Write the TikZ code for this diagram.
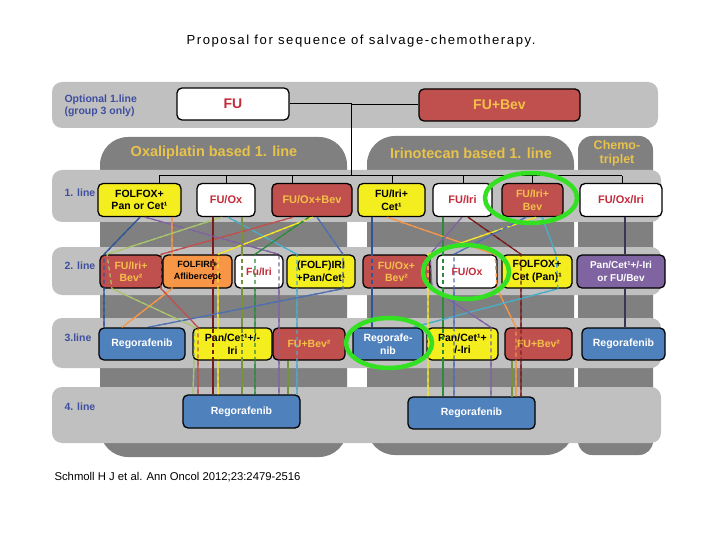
\documentclass[tikz,border=0pt]{standalone}
\usepackage{fontspec}
\setmainfont{Liberation Sans}
\newfontfamily\titlefont[LetterSpace=12]{Liberation Sans}
\usetikzlibrary{positioning, calc, backgrounds}

\definecolor{bandgray}{HTML}{C0C0C0}
\definecolor{colgray}{HTML}{808080}
\definecolor{boxred}{HTML}{C0504D}
\definecolor{boxyellow}{HTML}{F5EE1E}
\definecolor{boxorange}{HTML}{F79646}
\definecolor{boxblue}{HTML}{4F81BD}
\definecolor{boxpurple}{HTML}{8064A2}
\definecolor{txtgold}{HTML}{F4C04A}
\definecolor{txtred}{HTML}{C42A3A}
\definecolor{labelblue}{HTML}{3F4FA0}
\definecolor{headgold}{HTML}{E8C24A}
\definecolor{ringgreen}{HTML}{33E022}
\definecolor{wdblue}{HTML}{2F5597}
\definecolor{wpurple}{HTML}{8064A2}
\definecolor{worange}{HTML}{F79646}
\definecolor{wlgreen}{HTML}{A9C46C}
\definecolor{wdred}{HTML}{7B1C1C}
\definecolor{wcyan}{HTML}{4BACC6}
\definecolor{wolive}{HTML}{77933C}
\definecolor{wred}{HTML}{C0504D}
\definecolor{wyellow}{HTML}{F2E52A}
\definecolor{wgreen}{HTML}{2E8B3E}
\definecolor{wblue}{HTML}{4F6FB0}
\definecolor{wnavy}{HTML}{3B3556}

\pgfdeclarelayer{bands}
\pgfdeclarelayer{wires}
\pgfsetlayers{bands,wires,main}

\tikzset{
  rbox/.style={draw=black, line width=1.3pt, rounded corners=5pt, align=center,
    inner sep=1pt, font=\bfseries\fontsize{10.5}{12.5}\selectfont},
  redbox/.style={rbox, fill=boxred, text=txtgold},
  yelbox/.style={rbox, fill=boxyellow, text=black},
  whitebox/.style={rbox, fill=white, text=txtred},
  orabox/.style={rbox, fill=boxorange, text=black},
  bluebox/.style={rbox, fill=boxblue, text=white},
  purbox/.style={rbox, fill=boxpurple, text=white},
  rowlabel/.style={anchor=west, text=labelblue, font=\bfseries\fontsize{10.5}{12.5}\selectfont},
  header/.style={text=headgold, font=\bfseries\fontsize{14.5}{15}\selectfont},
  wire/.style={line width=1.2pt},
  thru/.style={wire, dash pattern=on 4pt off 3pt},
  ring/.style={draw=ringgreen, line width=4.5pt}
}

% the treatment sequences, drawn once behind the boxes and once dashed over them
\newcommand\seqwires[1]{
  \draw[#1, wdblue] (140,0 |- a1.south) -- (104,0 |- b1.north) -- (104,0 |- c1.north);
  \draw[#1, wpurple] (145,0 |- a1.south) -- (279,0 |- b3.north) -- (279,0 |- d1.north);
  \draw[#1, worange] (172,0 |- a1.south) -- (172,0 |- b2.south) -- (122,0 |- c1.north);
  \draw[#1, wlgreen] (222,0 |- a2.south) -- (107,0 |- b1.north) -- (112,0 |- b1.south) -- (195,0 |- c2.north) -- (193,0 |- d1.north);
  \draw[#1, wdred] (213,0 |- a2.south) -- (213,0 |- d1.north);
  \draw[#1, wcyan] (228,0 |- a2.south) -- (297,0 |- b4.north) -- (297,0 |- d1.north);
  \draw[#1, wolive] (242,0 |- a2.south) -- (242,0 |- d1.north);
  \draw[#1, wred] (293,0 |- a3.south) -- (161,0 |- b2.north) -- (161,0 |- b2.south) -- (198,0 |- c2.north) -- (198,0 |- d1.north);
  \draw[#1, wyellow] (313,0 |- a3.south) -- (218,0 |- b2.north) -- (218,0 |- d1.north);
  \draw[#1, wgreen] (309,0 |- a3.south) -- (255,0 |- b3.north) -- (255,0 |- d1.north);
  \draw[#1, wblue] (317,0 |- a3.south) -- (343,0 |- b4.north) -- (343,0 |- b4.south) -- (148,0 |- c1.north);
  \draw[#1, wolive] (288,0 |- c3.south) -- (288,0 |- d1.north);
  \draw[#1, wdblue] (372,0 |- a4.south) -- (372,0 |- c4.north);
  \draw[#1, worange] (387,0 |- a4.south) -- (495,0 |- b6.north) -- (497,0 |- b6.south) -- (516,0 |- c6.north) -- (516,0 |- d2.north);
  \draw[#1, wgreen] (443,0 |- a5.south) -- (443,0 |- d2.north);
  \draw[#1, wpurple] (462,0 |- a5.south) -- (430,0 |- b5.north) -- (432,0 |- b5.south) -- (491,0 |- c5.north) -- (491,0 |- d2.north);
  \draw[#1, wdred] (468,0 |- a5.south) -- (521,0 |- b7.north) -- (521,0 |- d2.north);
  \draw[#1, wyellow] (536,0 |- a6.south) -- (428,0 |- b5.north) -- (428,0 |- d2.north);
  \draw[#1, wblue] (526,0 |- a6.south) -- (454,0 |- b6.north) -- (454,0 |- d2.north);
  \draw[#1, wcyan] (542,0 |- a6.south) -- (556,0 |- b7.north) -- (558,0 |- b7.south) -- (413,0 |- c4.north);
  \draw[#1, wolive] (512,0 |- c6.south) -- (512,0 |- d2.north);
  \draw[#1, wnavy] (625,0 |- a7.south) -- (625,0 |- b8.north);
  \draw[#1, wnavy] (625,0 |- b8.south) -- (625,0 |- c7.north);
}

\begin{document}
\begin{tikzpicture}[x=1pt, y=-1pt]
  \useasboundingbox (0,0) rectangle (720,540);

  \node[font=\titlefont\fontsize{13.1}{15}\selectfont] (title) at (361,41)
    {Proposal for sequence of salvage-chemotherapy.};

  % columns and bands
  \begin{pgfonlayer}{bands}
    \fill[colgray, rounded corners=28pt] (100,137) rectangle (347,457);
    \fill[colgray, rounded corners=28pt] (367,136) rectangle (574,455);
    \fill[colgray, rounded corners=14pt] (578,136) rectangle (653,455);
    \fill[bandgray, rounded corners=10pt] (52,82) rectangle (658,128);
    \fill[bandgray, rounded corners=10pt] (52,170) rectangle (661,222);
    \fill[bandgray, rounded corners=10pt] (52,247) rectangle (661,295);
    \fill[bandgray, rounded corners=10pt] (52,318) rectangle (661,368);
    \fill[bandgray, rounded corners=10pt] (52,387) rectangle (661,443);
  \end{pgfonlayer}

  \node[header] (hdox) at (214,153) {Oxaliplatin based 1. line};
  \node[header] (hdiri) at (471,153) {Irinotecan based 1. line};
  \node[header, align=center, font=\bfseries\fontsize{12.5}{14}\selectfont] (hdtri) at (617,153) {Chemo-\\triplet};

  \node[rowlabel, align=left] (lbopt) at (61,106) {Optional 1.line\\(group 3 only)};
  \node[rowlabel] (lb1) at (61,193) {1. line};
  \node[rowlabel] (lb2) at (61,266) {2. line};
  \node[rowlabel] (lb3) at (61,338) {3.line};
  \node[rowlabel] (lb4) at (61,407) {4. line};

  % optional first line
  \node[whitebox, minimum width=112pt, minimum height=32pt, font=\bfseries\fontsize{14}{15}\selectfont] (fu) at (233,104) {FU};
  \node[redbox, minimum width=161pt, minimum height=32pt, font=\bfseries\fontsize{14}{15}\selectfont] (fubev) at (499.5,105) {FU+Bev};

  % 1. line
  \node[yelbox, minimum width=83pt, minimum height=33pt] (a1) at (139.5,200) {FOLFOX+\\Pan or Cet¹};
  \node[whitebox, minimum width=58pt, minimum height=33pt, font=\bfseries\fontsize{11}{13}\selectfont] (a2) at (226,200) {FU/Ox};
  \node[redbox, minimum width=80pt, minimum height=33pt, font=\bfseries\fontsize{11}{13}\selectfont] (a3) at (312,200) {FU/Ox+Bev};
  \node[yelbox, minimum width=67pt, minimum height=33pt] (a4) at (391.5,200) {FU/Iri+\\Cet¹};
  \node[whitebox, minimum width=59pt, minimum height=33pt, font=\bfseries\fontsize{11}{13}\selectfont] (a5) at (462.5,200) {FU/Iri};
  \node[redbox, minimum width=61pt, minimum height=33pt] (a6) at (532.5,200) {FU/Iri+\\Bev};
  \node[whitebox, minimum width=82pt, minimum height=33pt, font=\bfseries\fontsize{11}{13}\selectfont] (a7) at (621,200) {FU/Ox/Iri};

  % 2. line
  \node[redbox, minimum width=62pt, minimum height=33pt] (b1) at (131,271.5) {FU/Iri+\\Bev²};
  \node[orabox, minimum width=69pt, minimum height=33pt, font=\bfseries\fontsize{9}{12}\selectfont] (b2) at (197.5,271.5) {FOLFIRI+\\Aflibercept};
  \node[whitebox, minimum width=48pt, minimum height=33pt] (b3) at (259,271.5) {Fu/Iri};
  \node[yelbox, minimum width=68pt, minimum height=33pt] (b4) at (321,271.5) {(FOLF)IRI\\+Pan/Cet¹};
  \node[redbox, minimum width=67pt, minimum height=33pt] (b5) at (396.5,271.5) {FU/Ox+\\Bev²};
  \node[whitebox, minimum width=60pt, minimum height=33pt] (b6) at (467,271.5) {FU/Ox};
  \node[yelbox, minimum width=70pt, minimum height=33pt] (b7) at (537,271.5) {FOLFOX+\\Cet (Pan)¹};
  \node[purbox, minimum width=88pt, minimum height=33pt, font=\bfseries\fontsize{10}{12.5}\selectfont] (b8) at (621,271.5) {Pan/Cet¹+/-Iri\\or FU/Bev};

  % 3. line
  \node[bluebox, minimum width=86pt, minimum height=32pt] (c1) at (142,344) {Regorafenib};
  \node[yelbox, minimum width=79pt, minimum height=32pt] (c2) at (232.5,344) {Pan/Cet¹+/-\\Iri};
  \node[redbox, minimum width=72pt, minimum height=32pt] (c3) at (309,344) {FU+Bev²};
  \node[bluebox, minimum width=70pt, minimum height=32pt] (c4) at (388,344) {Regorafe-\\nib};
  \node[yelbox, minimum width=71pt, minimum height=32pt] (c5) at (462.5,344) {Pan/Cet¹+\\/-Iri};
  \node[redbox, minimum width=67pt, minimum height=32pt] (c6) at (538.5,344) {FU+Bev²};
  \node[bluebox, minimum width=83pt, minimum height=32pt] (c7) at (623.5,344) {Regorafenib};

  % 4. line
  \node[bluebox, minimum width=117pt, minimum height=33pt] (d1) at (241.5,411.5) {Regorafenib};
  \node[bluebox, minimum width=127pt, minimum height=32pt] (d2) at (471.5,413) {Regorafenib};

  \node[anchor=west, font=\fontsize{11.3}{13}\selectfont] (src) at (51,477)
    {Schmoll H J et al. Ann Oncol 2012;23:2479-2516};

  % tree from the optional line
  \coordinate (hub) at (351,176);
  \draw[line width=1pt] (fu.east) -| (hub);
  \draw[line width=1pt] (fubev.west) -| (hub);
  \draw[line width=1pt] (159,0 |- hub) -- (622,0 |- hub);
  \foreach \x/\n in {159/a1, 226/a2, 292/a3, 392/a4, 463/a5, 532/a6, 622/a7}
    \draw[line width=1pt] (\x,0 |- hub) -- (\x,0 |- \n.north);

  \begin{pgfonlayer}{wires}
    \seqwires{wire}
  \end{pgfonlayer}
  \seqwires{thru}

  % highlighted options
  \draw[ring] (531,198) ellipse (46 and 25);
  \draw[ring] (466,272) ellipse (43 and 27);
  \draw[ring] (389,343) ellipse (43 and 25);
\end{tikzpicture}
\end{document}
